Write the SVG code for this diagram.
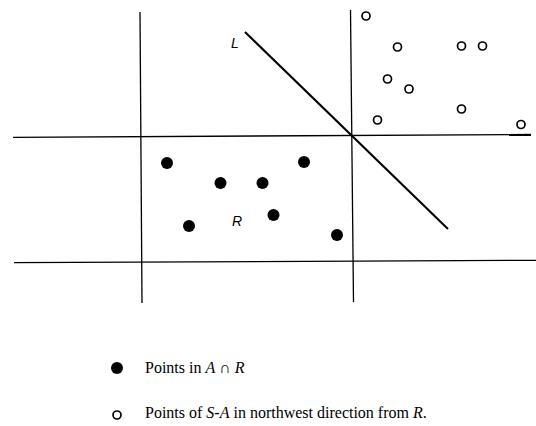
<svg xmlns="http://www.w3.org/2000/svg" width="536" height="426" viewBox="0 0 536 426">
<style>
.ln{stroke:#000;stroke-width:1.3;fill:none}
.lL{stroke:#000;stroke-width:2.1;fill:none}
.open{fill:#fff;stroke:#000;stroke-width:1.7}
.fill{fill:#000}
.lab{font-family:"Liberation Sans",Arial,sans-serif;font-style:italic;font-size:14px}
.leg{font-family:"Liberation Serif","Times New Roman",serif;font-size:16px}
.it{font-style:italic}
</style>
<rect width="536" height="426" fill="#fff"/>
<g id="connectors">
<line class="ln" x1="140" y1="12" x2="142" y2="303"/>
<line class="ln" x1="350.5" y1="10" x2="353.5" y2="302"/>
<line class="ln" x1="13" y1="137.3" x2="531" y2="134.5"/>
<line class="ln" x1="14" y1="262.7" x2="536" y2="260.3"/>
<line class="lL" x1="245" y1="32" x2="448" y2="229"/>
</g>
<g id="label-L"><text class="lab" x="231" y="48">L</text></g>
<g id="label-R"><text class="lab" x="232" y="226">R</text></g>
<g id="open-points">
<circle class="open" cx="366" cy="16" r="4"/>
<circle class="open" cx="397.5" cy="47" r="4"/>
<circle class="open" cx="461.5" cy="46" r="4"/>
<circle class="open" cx="482.5" cy="46" r="4"/>
<circle class="open" cx="387.5" cy="79" r="4"/>
<circle class="open" cx="409" cy="89" r="4"/>
<circle class="open" cx="461.5" cy="109" r="4"/>
<circle class="open" cx="377.5" cy="120" r="4"/>
<circle class="open" cx="521" cy="124.5" r="4"/>
</g>
<g id="filled-points">
<circle class="fill" cx="167" cy="163" r="6"/>
<circle class="fill" cx="304" cy="162" r="6"/>
<circle class="fill" cx="220.5" cy="183" r="6"/>
<circle class="fill" cx="262.5" cy="183" r="6"/>
<circle class="fill" cx="273.5" cy="215" r="6"/>
<circle class="fill" cx="189" cy="226" r="6"/>
<circle class="fill" cx="337" cy="235" r="6"/>
</g>
<g id="legend">
<circle class="fill" cx="117" cy="368" r="6"/>
<text class="leg" x="145" y="373">Points in <tspan class="it">A</tspan> ∩ <tspan class="it">R</tspan></text>
<circle class="open" cx="117" cy="415" r="4"/>
<text class="leg" x="145" y="418">Points of <tspan class="it">S</tspan>-<tspan class="it">A</tspan> in northwest direction from <tspan class="it">R</tspan>.</text>
</g>
</svg>
